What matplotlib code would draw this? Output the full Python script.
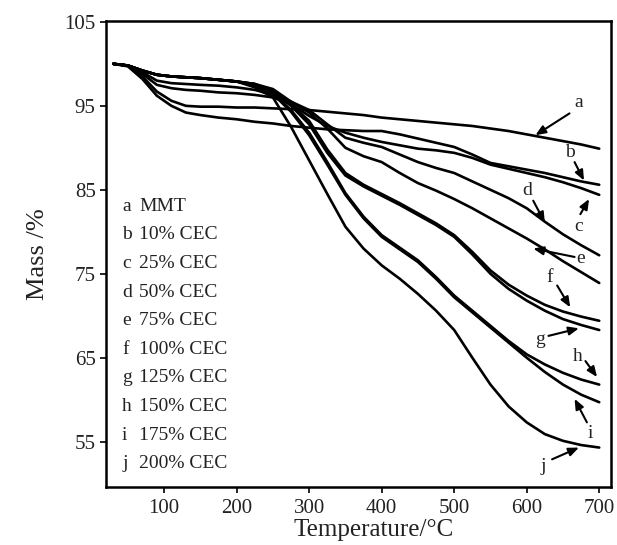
import matplotlib
matplotlib.use("Agg")
import matplotlib.pyplot as plt

plt.rcParams['font.family'] = ['Liberation Serif', 'DejaVu Serif']

temperature = [30, 50, 70, 90, 110, 130, 150, 175, 200, 225, 250, 275, 300, 325, 350,
               375, 400, 425, 450, 475, 500, 525, 550, 575, 600, 625, 650, 675, 700]

mass_a = [100, 99.8, 98.5, 96.7, 95.6, 95.0, 94.9, 94.9, 94.8, 94.8, 94.7, 94.6, 94.5, 94.3, 94.1,
          93.9, 93.6, 93.4, 93.2, 93.0, 92.8, 92.6, 92.3, 92.0, 91.6, 91.2, 90.8, 90.4, 89.9]
mass_b = [100, 99.7, 98.2, 96.2, 95.0, 94.2, 93.9, 93.6, 93.4, 93.1, 92.9, 92.6, 92.4, 92.2, 92.1,
          92.0, 92.0, 91.6, 91.1, 90.6, 90.1, 89.2, 88.2, 87.8, 87.4, 87.0, 86.5, 86.0, 85.6]
mass_c = [100, 99.8, 98.8, 97.5, 97.1, 96.9, 96.8, 96.6, 96.5, 96.3, 96.0, 95.2, 93.8, 92.6, 91.8,
          91.2, 90.7, 90.3, 89.9, 89.7, 89.4, 88.8, 88.0, 87.5, 87.0, 86.5, 85.9, 85.2, 84.4]
mass_d = [100, 99.8, 99.0, 98.0, 97.7, 97.6, 97.5, 97.4, 97.2, 96.9, 96.3, 95.5, 94.5, 92.8, 91.2,
          90.6, 90.1, 89.2, 88.3, 87.6, 87.0, 86.0, 85.0, 84.0, 82.8, 81.2, 79.7, 78.4, 77.2]
mass_e = [100, 99.8, 99.2, 98.7, 98.5, 98.4, 98.3, 98.1, 97.9, 97.6, 97.0, 95.5, 94.2, 92.3, 90.0,
          89.0, 88.3, 87.0, 85.8, 84.9, 83.9, 82.8, 81.6, 80.4, 79.2, 77.9, 76.5, 75.2, 73.9]
mass_f = [100, 99.8, 99.2, 98.7, 98.5, 98.4, 98.3, 98.1, 97.9, 97.6, 96.8, 95.2, 93.2, 89.8, 87.0,
          85.6, 84.5, 83.4, 82.2, 81.0, 79.6, 77.6, 75.4, 73.7, 72.4, 71.3, 70.5, 69.9, 69.4]
mass_g = [100, 99.8, 99.2, 98.7, 98.5, 98.4, 98.3, 98.1, 97.9, 97.6, 96.7, 95.0, 92.8, 89.4, 86.7,
          85.4, 84.3, 83.2, 82.0, 80.8, 79.4, 77.3, 75.0, 73.2, 71.8, 70.6, 69.6, 68.9, 68.3]
mass_h = [100, 99.8, 99.2, 98.7, 98.5, 98.4, 98.3, 98.1, 97.9, 97.4, 96.5, 94.5, 91.8, 88.3, 84.6,
          81.8, 79.6, 78.1, 76.6, 74.6, 72.4, 70.6, 68.8, 67.0, 65.4, 64.2, 63.2, 62.4, 61.8]
mass_i = [100, 99.8, 99.2, 98.7, 98.5, 98.4, 98.3, 98.1, 97.9, 97.4, 96.4, 94.3, 91.5, 88.0, 84.4,
          81.6, 79.4, 77.9, 76.4, 74.4, 72.2, 70.4, 68.6, 66.8, 65.0, 63.3, 61.8, 60.6, 59.7]
mass_j = [100, 99.8, 99.2, 98.7, 98.5, 98.4, 98.3, 98.1, 97.9, 97.2, 96.0, 92.5, 88.5, 84.5, 80.6,
          78.0, 76.0, 74.4, 72.6, 70.6, 68.3, 65.0, 61.8, 59.2, 57.3, 55.9, 55.1, 54.6, 54.3]

series = [mass_a, mass_b, mass_c, mass_d, mass_e, mass_f, mass_g, mass_h, mass_i, mass_j]

curve_letters = ['a', 'b', 'c', 'd', 'e', 'f', 'g', 'h', 'i', 'j']
legend_names = ['MMT', '10% CEC', '25% CEC', '50% CEC', '75% CEC', '100% CEC',
                '125% CEC', '150% CEC', '175% CEC', '200% CEC']

# annotation: label position, arrow tail, arrow tip (data coords)
label_pos = [(672, 95.4), (659, 89.4), (672, 80.6), (601, 84.9), (674, 76.8),
             (632, 74.6), (619, 67.2), (670, 65.2), (688, 56.0), (623, 52.1)]
arrow_tail = [(659, 94.1), (666, 88.3), (674, 82.1), (609, 83.7), (666, 77.0),
              (642, 73.6), (630, 67.6), (681, 64.6), (683, 57.3), (635, 52.9)]
arrow_tip = [(612, 91.5), (679, 86.1), (686, 83.9), (625, 81.1), (609, 78.0),
             (660, 71.0), (672, 68.5), (697, 62.7), (666, 60.1), (672, 54.3)]

x_ticks = [100, 200, 300, 400, 500, 600, 700]
y_ticks = [55, 65, 75, 85, 95, 105]

fig = plt.figure(figsize=(6.17, 5.45), dpi=100)
ax = fig.add_axes([0.172, 0.1064, 0.818, 0.855])

for s in series:
    ax.plot(temperature, s, color='black', linewidth=1.9, solid_capstyle='round',
            solid_joinstyle='round')

for (lx, ly), (tx, ty), (hx, hy), L in zip(label_pos, arrow_tail, arrow_tip, curve_letters):
    ax.text(lx, ly, L, fontsize=14, ha='center', va='center', color='#222222')
    ax.annotate('', xy=(hx, hy), xytext=(tx, ty),
                arrowprops=dict(arrowstyle='-|>,head_length=0.6,head_width=0.25',
                                color='black', lw=1.5, shrinkA=0, shrinkB=0))

# legend text block
for k, (L, name) in enumerate(zip(curve_letters, legend_names)):
    yv = 83.05 - k * 3.41
    ax.text(42, yv, L, fontsize=14, ha='left', va='center', color='#222222')
    ax.text(66, yv, name, fontsize=14, ha='left', va='center', color='#222222')

ax.set_xlim(20, 716)
ax.set_ylim(49.6, 105.1)
ax.set_xticks(x_ticks)
ax.set_yticks(y_ticks)
ax.tick_params(direction='out', length=4, width=1.2, labelsize=15, colors='black',
               labelcolor='#222222')
ax.tick_params(axis='x', pad=4.5)
for sp in ax.spines.values():
    sp.set_linewidth(1.8)
ax.set_xlabel('Temperature/°C', fontsize=18, color='#222222')
ax.set_ylabel('Mass /%', fontsize=19, color='#222222')
ax.xaxis.set_label_coords(0.53, -0.068)
ax.yaxis.set_label_coords(-0.113, 0.50)

fig.savefig('out.png', dpi=100)
